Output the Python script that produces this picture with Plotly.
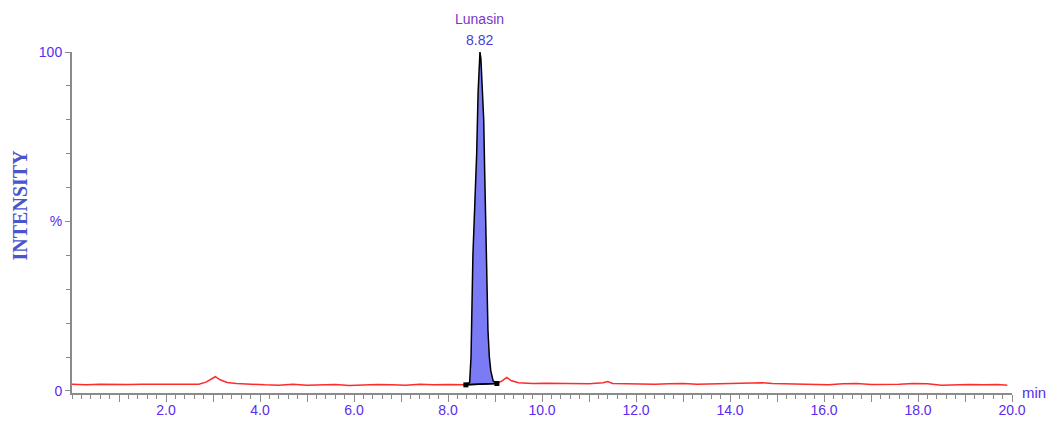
import plotly.graph_objects as go

# ---- data ----
base_left_x = [0.0, 0.3, 0.6, 0.9, 1.2, 1.5, 1.8, 2.1, 2.4, 2.7, 2.85, 2.95, 3.05, 3.15, 3.3, 3.5,
               3.8, 4.1, 4.4, 4.7, 5.0, 5.3, 5.6, 5.9, 6.2, 6.5, 6.8, 7.1, 7.4, 7.7, 8.0, 8.2, 8.38]
base_left_y = [2.0, 1.8, 2.0, 1.9, 1.9, 2.0, 1.9, 2.0, 2.0, 2.0, 2.6, 3.3, 4.2, 3.3, 2.5, 2.2,
               1.9, 1.8, 1.7, 2.0, 1.7, 1.8, 1.9, 1.6, 1.8, 1.9, 1.8, 1.7, 2.0, 1.8, 1.9, 1.8, 1.8]
base_right_x = [9.04, 9.15, 9.25, 9.35, 9.5, 9.8, 10.1, 10.4, 10.7, 11.0, 11.3, 11.4, 11.5, 11.8,
                12.1, 12.4, 12.7, 13.0, 13.3, 13.6, 13.9, 14.2, 14.5, 14.7, 14.9, 15.2, 15.5, 15.8,
                16.1, 16.4, 16.7, 17.0, 17.3, 17.6, 17.9, 18.2, 18.5, 18.8, 19.1, 19.4, 19.7, 19.9]
base_right_y = [2.2, 3.0, 4.0, 3.0, 2.4, 2.2, 2.3, 2.2, 2.2, 2.1, 2.4, 2.8, 2.2, 2.1,
                2.2, 2.0, 2.1, 2.2, 2.0, 2.1, 2.0, 2.2, 2.2, 2.4, 2.2, 2.1, 1.9, 1.9,
                1.8, 2.1, 2.2, 1.9, 1.9, 2.0, 2.2, 2.1, 1.7, 1.9, 1.9, 1.8, 1.9, 1.7]

peak_x = [8.38, 8.46, 8.49, 8.51, 8.53, 8.57, 8.61, 8.64, 8.66, 8.68,
          8.70, 8.73, 8.76, 8.78, 8.81, 8.83, 8.85, 8.88, 8.91, 8.96, 9.04]
peak_y = [1.8, 2.5, 10, 25, 40, 55, 70, 88, 97, 100,
          98, 88, 80, 65, 45, 33, 18, 10, 6, 3, 2.2]

peak_name = "Lunasin"
peak_rt = "8.82"

x_tick_vals = list(range(1, 21))
x_tick_text = [f"{v:.1f}" if v % 2 == 0 else "" for v in x_tick_vals]
y_tick_vals = [0, 50, 100]
y_tick_text = ["0", "%", "100"]

TICK_COLOR = "#5a2cf0"

fig = go.Figure()

# red baseline trace (left and right of the integrated peak)
fig.add_trace(go.Scatter(x=base_left_x, y=base_left_y, mode="lines",
                         line=dict(color="#ff2a2a", width=1.5), hoverinfo="skip"))
fig.add_trace(go.Scatter(x=base_right_x, y=base_right_y, mode="lines",
                         line=dict(color="#ff2a2a", width=1.5), hoverinfo="skip"))

# filled peak
fig.add_trace(go.Scatter(x=peak_x + [peak_x[0]], y=peak_y + [peak_y[0]], mode="lines",
                         fill="toself", fillcolor="#7b7bf5",
                         line=dict(color="black", width=1.5), hoverinfo="skip"))

# integration baseline with end markers
fig.add_trace(go.Scatter(x=[peak_x[0], peak_x[-1]], y=[peak_y[0], peak_y[-1]],
                         mode="lines+markers",
                         line=dict(color="black", width=1.5),
                         marker=dict(symbol="square", size=5, color="black"),
                         hoverinfo="skip"))

# peak label
apex_i = peak_y.index(max(peak_y))
fig.add_annotation(x=peak_x[apex_i], y=max(peak_y), text=peak_name, showarrow=False,
                   yshift=33, font=dict(family="Liberation Sans, Arial", size=14, color="#7a35c8"))
fig.add_annotation(x=peak_x[apex_i], y=max(peak_y), text=peak_rt, showarrow=False,
                   yshift=12, font=dict(family="Liberation Sans, Arial", size=14, color="#4a3be0"))

# axis titles
fig.add_annotation(xref="paper", yref="paper", x=1.0, y=0, text="min", showarrow=False,
                   xanchor="left", yanchor="middle", xshift=8, yshift=1,
                   font=dict(family="Liberation Sans, Arial", size=15, color=TICK_COLOR))
fig.add_annotation(xref="paper", yref="paper", x=0, y=0.55, text="<b>INTENSITY</b>",
                   showarrow=False, textangle=-90, xanchor="center", yanchor="middle",
                   xshift=-52,
                   font=dict(family="Liberation Serif, Times New Roman, serif", size=20,
                             color="#4a55cc"))

fig.update_layout(
    width=1051, height=423,
    margin=dict(l=72, r=39, t=52, b=30, autoexpand=False),
    paper_bgcolor="white", plot_bgcolor="white",
    showlegend=False,
    xaxis=dict(range=[0, 20], showgrid=False, zeroline=False, automargin=False,
               showline=True, linecolor="#8a8a8a", linewidth=2,
               tickmode="array", tickvals=x_tick_vals, ticktext=x_tick_text,
               ticks="outside", ticklen=7, tickcolor="#8a8a8a", tickwidth=1,
               ticklabelstandoff=-4,
               tickfont=dict(family="Liberation Sans, Arial", size=14, color=TICK_COLOR),
               minor=dict(dtick=0.2, tick0=0, ticks="outside", ticklen=4,
                          tickcolor="#8a8a8a", tickwidth=1)),
    yaxis=dict(range=[-0.6, 100], showgrid=False, zeroline=False, automargin=False,
               showline=True, linecolor="#8a8a8a", linewidth=2,
               tickmode="array", tickvals=y_tick_vals, ticktext=y_tick_text,
               ticks="outside", ticklen=5, tickcolor="#8a8a8a", tickwidth=1,
               tickfont=dict(family="Liberation Sans, Arial", size=14, color=TICK_COLOR),
               minor=dict(dtick=10, tick0=0, ticks="outside", ticklen=4,
                          tickcolor="#8a8a8a", tickwidth=1)),
)

fig.write_html("out.html")
